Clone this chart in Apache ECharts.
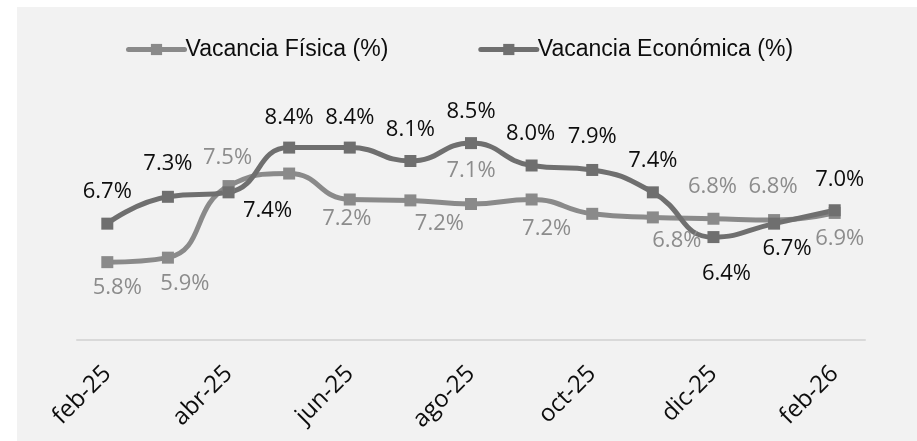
<!DOCTYPE html>
<html>
<head>
<meta charset="utf-8">
<script src="https://cdn.jsdelivr.net/npm/echarts@6/dist/echarts.min.js"></script>
<style>
  html, body { margin: 0; padding: 0; background: #ffffff; }
  #chart { position: absolute; left: 17px; top: 7px; width: 900px; height: 434px; background: #f2f2f2; }
</style>
</head>
<body>
<div id="chart"></div>
<script>
// meses (eje x)
const categories = ['feb-25', 'mar-25', 'abr-25', 'may-25', 'jun-25', 'jul-25', 'ago-25',
  'sep-25', 'oct-25', 'nov-25', 'dic-25', 'ene-26', 'feb-26']

// valores
const vacanciaFisica = [5.84, 5.94, 7.54, 7.82, 7.24, 7.22, 7.14, 7.24, 6.92, 6.84, 6.81, 6.78, 6.94]
const vacanciaEconomica = [6.7, 7.3, 7.4, 8.4, 8.4, 8.1, 8.5, 8.0, 7.9, 7.4, 6.4, 6.7, 7.0]

// desplazamiento de cada etiqueta respecto al marcador (null = sin etiqueta)
const offsetsFisica = [[10, 26], [17, 26], [-1, -28], null, [-3, 19], [29, 23], [0, -33],
  [15, 29], null, [24, 23], [-1, -32], [-1, -33], [5, 26]]
const offsetsEconomica = [[0, -32], [0, -33], [39, 18], [0, -30], [0, -30], [0, -31], [0, -31],
  [-1, -32], [0, -33], [0, -32], [13, 37], [13, 25], [5, -31]]

const labelFont = '"Open Sans", "Noto Sans", sans-serif'

const buildData = (values, offsets) => values.map((v, i) => {
  const off = offsets[i]
  return {
    value: v,
    label: off ? { show: true, offset: off } : { show: false }
  }
})

const chart = echarts.init(document.getElementById('chart'))

const option = {
  backgroundColor: '#f2f2f2',
  animation: false,
  legend: {
    left: 104,
    top: 26,
    itemWidth: 56,
    itemHeight: 14,
    itemGap: 90,
    lineStyle: { width: 5, cap: 'round' },
    textStyle: {
      fontFamily: '"Liberation Sans", Arial, sans-serif',
      fontSize: 23,
      color: '#0d0d0d',
      padding: [0, 0, 0, -4]
    },
    data: ['Vacancia Física (%)', 'Vacancia Económica (%)']
  },
  grid: {
    left: 60,
    right: 52,
    top: 69,
    bottom: 101
  },
  xAxis: {
    type: 'category',
    data: categories,
    boundaryGap: true,
    axisLine: { lineStyle: { color: '#d9d9d9', width: 2 } },
    axisTick: { interval: 1, length: 7, lineStyle: { color: '#d9d9d9', width: 2 } },
    axisLabel: {
      interval: 1,
      rotate: 45,
      margin: 30,
      fontFamily: labelFont,
      fontSize: 24,
      color: '#0d0d0d'
    }
  },
  yAxis: {
    type: 'value',
    min: 4.1,
    max: 10,
    show: false,
    splitLine: { show: false }
  },
  series: [
    {
      name: 'Vacancia Física (%)',
      type: 'line',
      smooth: 0.5,
      symbol: 'rect',
      symbolSize: 12,
      color: '#8a8a8a',
      lineStyle: { width: 5, color: '#8a8a8a' },
      itemStyle: { color: '#8a8a8a' },
      label: {
        position: 'inside',
        fontFamily: labelFont,
        fontSize: 22,
        color: '#8c8c8c',
        formatter: p => p.value.toFixed(1) + '%'
      },
      data: buildData(vacanciaFisica, offsetsFisica)
    },
    {
      name: 'Vacancia Económica (%)',
      type: 'line',
      smooth: 0.5,
      symbol: 'rect',
      symbolSize: 12,
      color: '#6f6f6f',
      lineStyle: { width: 5, color: '#6f6f6f' },
      itemStyle: { color: '#6f6f6f' },
      label: {
        position: 'inside',
        fontFamily: labelFont,
        fontSize: 22,
        color: '#0d0d0d',
        formatter: p => p.value.toFixed(1) + '%'
      },
      data: buildData(vacanciaEconomica, offsetsEconomica)
    }
  ]
}

chart.setOption(option)
</script>
</body>
</html>
